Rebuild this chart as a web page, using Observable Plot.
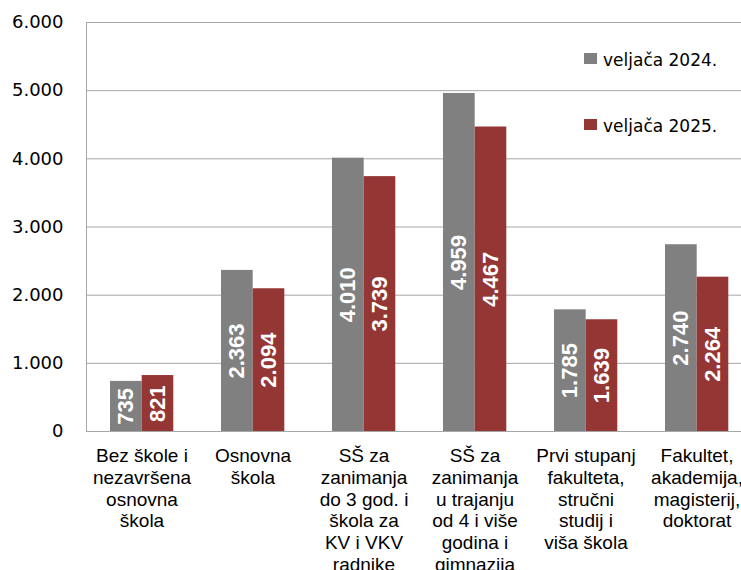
<!DOCTYPE html>
<html>
<head>
<meta charset="utf-8">
<script src="https://cdn.jsdelivr.net/npm/d3@7"></script>
<script src="https://cdn.jsdelivr.net/npm/@observablehq/plot@0.6"></script>
<style>
  html, body { margin: 0; padding: 0; background: white; overflow: hidden; }
  #wrap { position: relative; width: 741px; height: 570px; }
  .legend { position: absolute; left: 584px; font-family: "DejaVu Sans", sans-serif; font-size: 17px; line-height: 20px; color: #000; display: flex; align-items: center; white-space: nowrap; }
  .legend .sw { width: 13px; height: 11px; margin-right: 6px; margin-top: -3px; }
</style>
</head>
<body>
<div id="wrap"></div>
<script>
const categories = [
  "Bez škole i\nnezavršena\nosnovna\nškola",
  "Osnovna\nškola",
  "SŠ za\nzanimanja\ndo 3 god. i\nškola za\nKV i VKV\nradnike",
  "SŠ za\nzanimanja\nu trajanju\nod 4 i više\ngodina i\ngimnazija",
  "Prvi stupanj\nfakulteta,\nstručni\nstudij i\nviša škola",
  "Fakultet,\nakademija,\nmagisterij,\ndoktorat"
];
const seriesNames = ["veljača 2024.", "veljača 2025."];
const values2024 = [735, 2363, 4010, 4959, 1785, 2740];
const values2025 = [821, 2094, 3739, 4467, 1639, 2264];
const yTicks = [0, 1000, 2000, 3000, 4000, 5000, 6000];
const colors = ["#808080", "#943634"];

const locale = d3.formatLocale({decimal: ",", thousands: ".", grouping: [3], currency: ["", ""]});
const fmt = locale.format(",d");

const rows2024 = categories.map((c, i) => ({category: c, value: values2024[i]}));
const rows2025 = categories.map((c, i) => ({category: c, value: values2025[i]}));

const labelFont = "'Liberation Sans', Arial, sans-serif";

const chart = Plot.plot({
  width: 741,
  height: 570,
  marginLeft: 86,
  marginRight: -11,
  marginTop: 22,
  marginBottom: 139,
  style: {fontFamily: "'DejaVu Sans', sans-serif", fontSize: "18px", color: "#000", background: "white", overflow: "hidden"},
  x: {domain: categories, padding: 0, axis: null},
  y: {domain: [0, 6000], ticks: yTicks, tickFormat: fmt, tickSize: 0, tickPadding: 23, label: null},
  marks: [
    Plot.ruleY(yTicks, {stroke: "#a6a6a6", strokeWidth: 1}),
    Plot.frame({stroke: "#a6a6a6"}),
    Plot.barY(rows2024, {x: "category", y: "value", fill: colors[0], insetLeft: 24, insetRight: 55.3}),
    Plot.barY(rows2025, {x: "category", y: "value", fill: colors[1], insetLeft: 55.7, insetRight: 23.7}),
    Plot.text(rows2024, {x: "category", y: d => d.value / 2, text: d => fmt(d.value), rotate: -90, fill: "white", fontWeight: "bold", fontSize: 22, fontFamily: labelFont, dx: -15.65}),
    Plot.text(rows2025, {x: "category", y: d => d.value / 2, text: d => fmt(d.value), rotate: -90, fill: "white", fontWeight: "bold", fontSize: 22, fontFamily: labelFont, dx: 16}),
    Plot.text(categories, {x: d => d, text: d => d, frameAnchor: "bottom", lineAnchor: "top", dy: 15.5, fontSize: 19, lineHeight: 1.14, fontFamily: labelFont, fill: "#000"})
  ]
});

const wrap = document.getElementById("wrap");
wrap.appendChild(chart);

const legendTops = [50, 116];
seriesNames.forEach((name, i) => {
  const item = document.createElement("div");
  item.className = "legend";
  item.style.top = legendTops[i] + "px";
  const sw = document.createElement("span");
  sw.className = "sw";
  sw.style.background = colors[i];
  const t = document.createElement("span");
  t.textContent = name;
  item.appendChild(sw);
  item.appendChild(t);
  wrap.appendChild(item);
});
</script>
</body>
</html>
